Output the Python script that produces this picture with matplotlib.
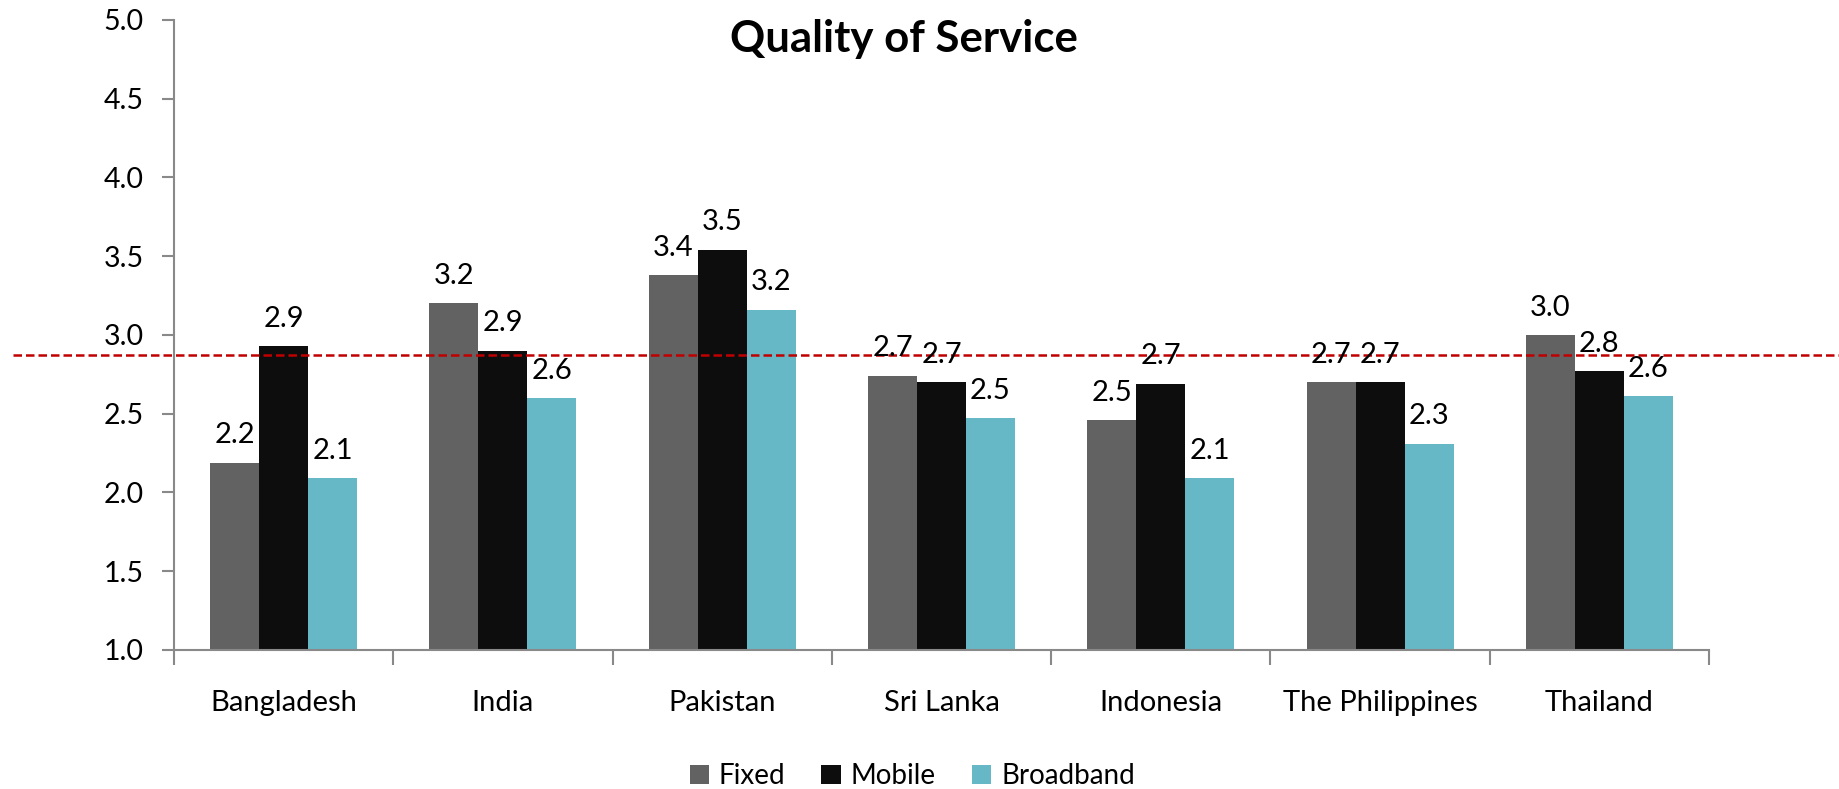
#!/usr/bin/env python3
"""Quality of Service - grouped bars per country with average reference line."""
import numpy as np
import matplotlib as mpl
import matplotlib.pyplot as plt
from matplotlib.patches import Patch

mpl.rcParams.update({
    'font.family': ['Lato', 'DejaVu Sans'],
    'font.size': 20,
    'axes.linewidth': 1.5,
    'axes.spines.top': False, 'axes.spines.right': False,
})

countries = ['Bangladesh', 'India', 'Pakistan', 'Sri Lanka', 'Indonesia',
             'The Philippines', 'Thailand']
fixed     = [2.19, 3.20, 3.38, 2.74, 2.46, 2.70, 3.00]
mobile    = [2.93, 2.90, 3.54, 2.70, 2.69, 2.70, 2.77]
broadband = [2.09, 2.60, 3.16, 2.47, 2.09, 2.31, 2.61]
series_names = ['Fixed', 'Mobile', 'Broadband']
avg_line = 2.873
yticks = [1.0, 1.5, 2.0, 2.5, 3.0, 3.5, 4.0, 4.5, 5.0]

COLORS = ['#626262', '#0d0d0d', '#67b8c6']
GRAY = '#898989'
RED = '#c00000'

fig = plt.figure(figsize=(18.39, 7.89), dpi=100)
ax = fig.add_axes([0.0946, 0.1762, 0.8347, 0.7985])

x = np.arange(len(countries))
w = 0.2235
for i, (vals, col) in enumerate(zip([fixed, mobile, broadband], COLORS)):
    pos = x + (i - 1) * w
    ax.bar(pos, vals, width=w, color=col, zorder=2)
    for px, v in zip(pos, vals):
        ax.annotate(f'{v:.1f}', (px, v), xytext=(0, 14), textcoords='offset points',
                    ha='center', va='baseline', fontsize=21, zorder=4)

# average reference line spanning the whole figure width
ax.axhline(avg_line, xmin=-0.105, xmax=1.09, color=RED, lw=1.8,
           dashes=(3.4, 1.6), clip_on=False, zorder=3)

ax.set_xlim(-0.5, len(countries) - 0.5)
ax.set_ylim(1.0, 5.0)
ax.set_yticks(yticks)
ax.set_yticklabels([f'{t:.1f}' for t in yticks])
ax.set_xticks(x)
ax.set_xticklabels(countries)
ax.set_xticks(np.arange(len(countries) + 1) - 0.5, minor=True)
ax.tick_params(axis='x', which='major', length=0, pad=29, labelsize=21)
ax.tick_params(axis='x', which='minor', length=11, width=1.5, color=GRAY)
ax.tick_params(axis='y', length=9, width=1.5, color=GRAY, pad=13, labelsize=20.5)
for s in ('left', 'bottom'):
    ax.spines[s].set_color(GRAY)

fig.text(0.4916, 0.9506, 'Quality of Service', ha='center', va='center',
         fontsize=31.5, fontweight='bold')

handles = [Patch(facecolor=c, edgecolor='none') for c in COLORS]
fig.legend(handles, series_names, loc='center', bbox_to_anchor=(0.496, 0.016),
           ncol=3, frameon=False, fontsize=20, handlelength=0.7, handleheight=0.7,
           handletextpad=0.35, columnspacing=1.3)

fig.savefig('out.png', dpi=100)
